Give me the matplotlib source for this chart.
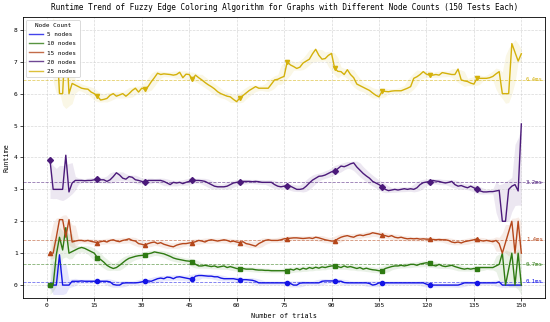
import numpy as np
import pandas as pd
import matplotlib
matplotlib.use("Agg")
import matplotlib.pyplot as plt

plt.rcParams['font.family'] = ['DejaVu Sans Mono']

# trials 1..150
trials = np.arange(1, 151)

nodes_5 = [
    0.0, 0.0, 0.0, 0.95, 0.0, 0.0, 0.0, 0.12, 0.12, 0.12, 0.13, 0.12, 0.12, 0.12, 0.12,
    0.12, 0.12, 0.12, 0.12, 0.1, 0.02, 0.0, 0.0, 0.06, 0.07, 0.07, 0.07, 0.07, 0.08, 0.1,
    0.13, 0.13, 0.12, 0.16, 0.2, 0.22, 0.2, 0.25, 0.24, 0.2, 0.25, 0.26, 0.24, 0.22, 0.2,
    0.18, 0.28, 0.3, 0.3, 0.29, 0.28, 0.28, 0.26, 0.26, 0.22, 0.2, 0.2, 0.2, 0.2, 0.18,
    0.17, 0.17, 0.17, 0.16, 0.15, 0.12, 0.07, 0.07, 0.07, 0.07, 0.07, 0.07, 0.07, 0.07, 0.07,
    0.07, 0.05, 0.0, 0.0, 0.06, 0.07, 0.07, 0.07, 0.07, 0.07, 0.07, 0.12, 0.13, 0.13, 0.13,
    0.13, 0.12, 0.12, 0.08, 0.07, 0.07, 0.07, 0.07, 0.07, 0.07, 0.07, 0.05, 0.0, 0.02, 0.07,
    0.07, 0.07, 0.07, 0.07, 0.07, 0.07, 0.07, 0.07, 0.07, 0.07, 0.07, 0.07, 0.07, 0.07, 0.03,
    0.0, 0.0, 0.0, 0.0, 0.0, 0.0, 0.0, 0.0, 0.0, 0.0, 0.03, 0.07, 0.07, 0.07, 0.07,
    0.07, 0.07, 0.07, 0.07, 0.07, 0.07, 0.07, 0.1, 0.0, 0.0, 0.0, 0.0, 0.0, 0.0, 0.0,
]
nodes_10 = [
    0.0, 0.0, 0.95, 1.5, 1.1, 1.8, 1.0, 1.05, 1.1, 1.15, 1.18, 1.15, 1.1, 1.05, 1.0,
    0.86, 0.8, 0.72, 0.62, 0.56, 0.52, 0.55, 0.62, 0.7, 0.78, 0.84, 0.87, 0.9, 0.92, 0.93,
    0.94, 0.98, 1.0, 1.04, 1.02, 1.0, 0.98, 0.94, 0.9, 0.85, 0.82, 0.8, 0.78, 0.76, 0.75,
    0.73, 0.65, 0.6, 0.6, 0.62, 0.6, 0.58, 0.6, 0.56, 0.58, 0.6, 0.55, 0.58, 0.55, 0.52,
    0.5, 0.52, 0.5, 0.5, 0.5, 0.48, 0.47, 0.47, 0.46, 0.46, 0.45, 0.45, 0.45, 0.45, 0.45,
    0.45, 0.5, 0.47, 0.52, 0.48, 0.53, 0.5, 0.55, 0.52, 0.56, 0.53, 0.57, 0.55, 0.58, 0.6,
    0.6, 0.58, 0.55, 0.6, 0.56, 0.58, 0.55, 0.52, 0.55, 0.5, 0.53, 0.5, 0.48, 0.47, 0.45,
    0.45, 0.52, 0.55, 0.58, 0.6, 0.6, 0.62, 0.6, 0.62, 0.65, 0.65, 0.62, 0.66, 0.68, 0.7,
    0.68, 0.62, 0.6, 0.65, 0.6, 0.58, 0.6, 0.62, 0.58, 0.55, 0.52, 0.5, 0.52, 0.5, 0.52,
    0.5, 0.55, 0.55, 0.55, 0.55, 0.55, 0.6, 0.65, 1.0, 0.0, 0.5, 1.0, 0.0, 1.0, 0.0,
]
nodes_15 = [
    1.0, 1.0, 1.5, 2.05, 2.05, 1.5, 2.05, 1.35, 1.38, 1.4, 1.4, 1.38, 1.4, 1.37, 1.35,
    1.33, 1.36, 1.38, 1.35, 1.4, 1.42, 1.38, 1.36, 1.4, 1.42, 1.45, 1.4, 1.38, 1.3, 1.28,
    1.25, 1.3, 1.33, 1.35, 1.3, 1.33, 1.28, 1.25, 1.22, 1.2, 1.25, 1.28, 1.3, 1.3, 1.32,
    1.33, 1.36, 1.4, 1.38, 1.35, 1.4, 1.42, 1.4, 1.38, 1.4, 1.42, 1.4, 1.36, 1.38, 1.35,
    1.33, 1.36, 1.3, 1.28, 1.25, 1.22, 1.3, 1.35, 1.4, 1.42, 1.4, 1.4, 1.4, 1.42, 1.45,
    1.46, 1.47, 1.48, 1.48, 1.47, 1.46, 1.47, 1.48, 1.46, 1.5, 1.48, 1.45, 1.42, 1.4, 1.38,
    1.38, 1.45, 1.5, 1.53, 1.55, 1.52, 1.5, 1.55, 1.57, 1.55, 1.58, 1.6, 1.64, 1.62, 1.6,
    1.57, 1.55, 1.52, 1.55, 1.5, 1.48, 1.5, 1.47, 1.45, 1.46, 1.45, 1.46, 1.44, 1.45, 1.44,
    1.44, 1.43, 1.42, 1.43, 1.42, 1.42, 1.4, 1.35, 1.33, 1.35, 1.32, 1.36, 1.38, 1.4, 1.42,
    1.45, 1.4, 1.38, 1.4, 1.38, 1.36, 1.4, 1.3, 1.0, 1.33, 1.67, 2.0, 1.0, 2.0, 1.0,
]
nodes_20 = [
    3.92, 3.0, 3.0, 3.0, 3.0, 4.07, 2.92, 3.2, 3.28, 3.28, 3.28, 3.27, 3.28, 3.28, 3.3,
    3.32, 3.3, 3.3, 3.25, 3.3, 3.4, 3.52, 3.45, 3.35, 3.32, 3.4, 3.38, 3.3, 3.28, 3.25,
    3.22, 3.28, 3.28, 3.28, 3.28, 3.28, 3.25, 3.2, 3.15, 3.22, 3.2, 3.22, 3.18, 3.22, 3.25,
    3.29, 3.28, 3.28, 3.27, 3.25, 3.2, 3.15, 3.1, 3.08, 3.08, 3.08, 3.1, 3.15, 3.2, 3.22,
    3.22, 3.25, 3.25, 3.25, 3.24, 3.25, 3.24, 3.22, 3.22, 3.22, 3.22, 3.15, 3.1, 3.08, 3.1,
    3.1, 3.1, 3.05, 3.0, 3.0, 3.02, 3.1, 3.2, 3.29, 3.35, 3.41, 3.42, 3.45, 3.5, 3.55,
    3.57, 3.65, 3.73, 3.71, 3.75, 3.8, 3.83, 3.7, 3.6, 3.5, 3.42, 3.35, 3.25, 3.2, 3.15,
    3.08, 3.0, 2.96, 2.98, 3.0, 2.98, 3.0, 3.02, 3.0, 3.02, 3.0, 3.05, 3.15, 3.21, 3.23,
    3.24, 3.28, 3.26, 3.25, 3.22, 3.2, 3.22, 3.25, 3.15, 3.1, 3.12, 3.08, 3.05, 3.1, 3.05,
    3.0, 2.95, 2.92, 2.92, 2.93, 2.93, 2.95, 2.97, 2.0, 2.0, 3.0, 3.1, 3.15, 2.95, 5.05,
]
nodes_25 = [
    7.5, 8.0, 8.0, 6.0, 6.0, 8.0, 6.0, 6.32, 6.27, 6.22, 6.17, 6.15, 6.14, 6.05, 6.0,
    5.92, 5.8, 5.82, 5.85, 5.95, 6.0, 5.92, 5.96, 6.0, 5.92, 6.0, 6.1, 6.17, 6.05, 6.17,
    6.14, 6.22, 6.37, 6.5, 6.64, 6.6, 6.62, 6.61, 6.6, 6.58, 6.6, 6.67, 6.5, 6.61, 6.6,
    6.45, 6.58, 6.5, 6.43, 6.35, 6.28, 6.22, 6.15, 6.06, 6.0, 5.96, 5.92, 5.9, 5.82, 5.75,
    5.86, 5.94, 6.02, 6.1, 6.16, 6.22, 6.17, 6.17, 6.17, 6.17, 6.3, 6.43, 6.45, 6.5, 6.54,
    7.0, 6.9, 6.85, 6.79, 6.83, 6.96, 7.02, 7.08, 7.25, 7.39, 7.2, 7.08, 7.1, 7.2, 7.26,
    6.79, 6.7, 6.69, 6.6, 6.75, 6.6, 6.5, 6.3, 6.25, 6.2, 6.15, 6.1, 6.02, 5.95, 5.9,
    6.08, 6.07, 6.06, 6.08, 6.09, 6.09, 6.09, 6.13, 6.17, 6.22, 6.48, 6.53, 6.6, 6.69, 6.61,
    6.58, 6.58, 6.6, 6.58, 6.66, 6.64, 6.62, 6.6, 6.6, 6.77, 6.43, 6.4, 6.38, 6.33, 6.3,
    6.48, 6.48, 6.48, 6.48, 6.5, 6.54, 6.62, 6.69, 6.0, 6.0, 6.0, 7.57, 7.3, 7.02, 7.25,
]

labels = ['5 nodes', '10 nodes', '15 nodes', '20 nodes', '25 nodes']
series = [nodes_5, nodes_10, nodes_15, nodes_20, nodes_25]
colors = ['#1414E6', '#2E7A12', '#B5471B', '#4B1A7A', '#D4B10A']
markers = ['o', 's', '^', 'D', 'v']

fig = plt.figure(figsize=(5.5, 3.22), dpi=100)
ax = fig.add_axes([0.042, 0.075, 0.949, 0.872])

for y, lab, c, m in zip(series, labels, colors, markers):
    y = np.array(y)
    ax.plot(trials, y, color=c, lw=1.0, marker=m, markersize=3,
            markevery=15, label=lab)
    # rolling band around the curve
    s = pd.Series(y)
    mu = s.rolling(5, center=True, min_periods=1).mean()
    sd = s.rolling(5, center=True, min_periods=1).std().fillna(0)
    ax.fill_between(trials, mu - sd - 0.06, mu + sd + 0.06, color=c,
                    alpha=0.1, lw=0)
    mean = y.mean()
    ax.axhline(mean, color=c, ls='--', lw=0.6, alpha=0.6)
    ax.text(151.5, mean, f'{mean:.1f}ms', color=c, fontsize=4.1,
            va='center', ha='left')

ax.set_xlim(-7.5, 157.5)
ax.set_ylim(-0.4, 8.4)
ax.set_xticks(np.arange(0, 151, 15))
ax.set_yticks(np.arange(0, 9, 1))
ax.tick_params(labelsize=4.5, length=2, width=0.5, pad=2)
ax.grid(True, ls='--', lw=0.5, color='#d0d0d0', alpha=0.8)
for sp in ax.spines.values():
    sp.set_linewidth(0.6)

ax.set_title('Runtime Trend of Fuzzy Edge Coloring Algorithm for Graphs '
             'with Different Node Counts (150 Tests Each)', fontsize=5.6, pad=5)
ax.set_xlabel('Number of trials', fontsize=4.9, labelpad=3)
ax.set_ylabel('Runtime', fontsize=4.9, labelpad=3)

leg = ax.legend(title='Node Count', loc='upper left', fontsize=4.3,
                title_fontsize=4.3, handlelength=2.2, labelspacing=0.65,
                borderpad=0.55, framealpha=1.0, edgecolor='#cccccc')
for h in leg.legend_handles:
    h.set_marker('')
    h.set_alpha(0.8)
leg.get_frame().set_linewidth(0.5)

fig.savefig('out.png', dpi=100)
